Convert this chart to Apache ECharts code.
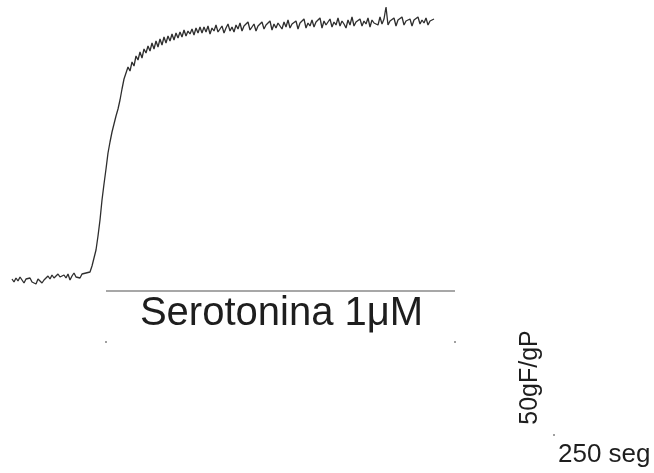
<!DOCTYPE html>
<html>
<head>
<meta charset="utf-8">
<script src="https://cdn.jsdelivr.net/npm/echarts@6/dist/echarts.min.js"></script>
<style>
html,body{margin:0;padding:0;background:#fff;}
#chart{width:654px;height:473px;}
</style>
</head>
<body>
<div id="chart"></div>
<script>
// Sampling interval of the trace (s)
const sampleInterval = 5;
// Force trace (arbitrary units relative to baseline)
const baselineValues = [-1,-4,0,-3,1,-2,-5,-1,-3,0,-4,-2,-6,-1,-3,-5,-2,-4,
  2,-1,3,0,-2,4,1,-1,3,0,4,-2,2,5,1,3,0,4,2,5,3];
const riseValues = [6,12,20,28,42,58,78,94,109,125,136,146,154,162,169,178,189,
  199,201,211,207,216,212,222,218,226,220,229,225,232,227,235,229,237,231,239,233,
  241,235,242,237,244,238,245,240,246,241,248,242,247,244,249,243,250,245,251];
const plateauValues = [245,251,246,252,244,250,247,253,246,249,
  252,245,250,254,247,251,246,253,249,255,
  247,252,250,256,248,251,254,247,252,250,
  256,249,253,251,257,248,254,250,255,252,
  249,256,251,258,250,254,252,257,249,255,
  253,259,250,255,252,258,251,256,254,260,
  250,257,253,255,259,251,256,253,260,252,
  257,254,250,258,253,261,252,256,255,259,
  252,257,254,260,251,258,255,256,253,261,
  254,259,271,253,257,255,260,252,258,256,
  261,253,257,255,259,252,258,256,261,254,
  258,255,260,253,257,256,259];
// Stimulus (Serotonina 1µM) start/end times (s) and bar level
const stimStart = 235;
const stimEnd = 1107.5;
const stimLevel = -13;
const stimMarkLevel = -64;
const stimLabel = 'Serotonina 1μM';
// Scale bar labels and corner
const scaleForceLabel = '50gF/gP';
const scaleTimeLabel = '250 seg';
const scaleCorner = [1355, -157];

const forceValues = baselineValues.concat(riseValues, plateauValues);
const traceData = forceValues.map((v, i) => [i * sampleInterval, v]);

const chart = echarts.init(document.getElementById('chart'), null, {renderer: 'canvas'});
chart.setOption({
  animation: false,
  backgroundColor: '#ffffff',
  grid: {left: 0, right: 0, top: 0, bottom: 0},
  xAxis: {type: 'value', min: -30, max: 1605, show: false},
  yAxis: {type: 'value', min: -195, max: 278, show: false},
  series: [
    {
      type: 'line', data: traceData, symbol: 'none',
      lineStyle: {color: '#2e2e2e', width: 1.3}
    },
    {
      type: 'line', data: [[stimStart, stimLevel], [stimEnd, stimLevel]], symbol: 'none',
      lineStyle: {color: '#8a8a8a', width: 1.5}
    },
    {
      type: 'scatter', data: [[stimStart, stimMarkLevel], [stimEnd, stimMarkLevel], scaleCorner],
      symbol: 'rect', symbolSize: 2, itemStyle: {color: '#888'}
    }
  ],
  graphic: [
    {
      type: 'text', x: 281.5, y: 313.5,
      style: {text: stimLabel, font: '40px "Liberation Sans", Arial, sans-serif',
        fill: '#1e1e1e', align: 'center', verticalAlign: 'middle'}
    },
    {
      type: 'text', x: 530, y: 377.5, rotation: Math.PI / 2,
      style: {text: scaleForceLabel, font: '25px "Liberation Sans", Arial, sans-serif',
        fill: '#1e1e1e', align: 'center', verticalAlign: 'middle'}
    },
    {
      type: 'text', x: 558, y: 455,
      style: {text: scaleTimeLabel, font: '26px "Liberation Sans", Arial, sans-serif',
        fill: '#1e1e1e', align: 'left', verticalAlign: 'middle'}
    }
  ]
});
</script>
</body>
</html>
